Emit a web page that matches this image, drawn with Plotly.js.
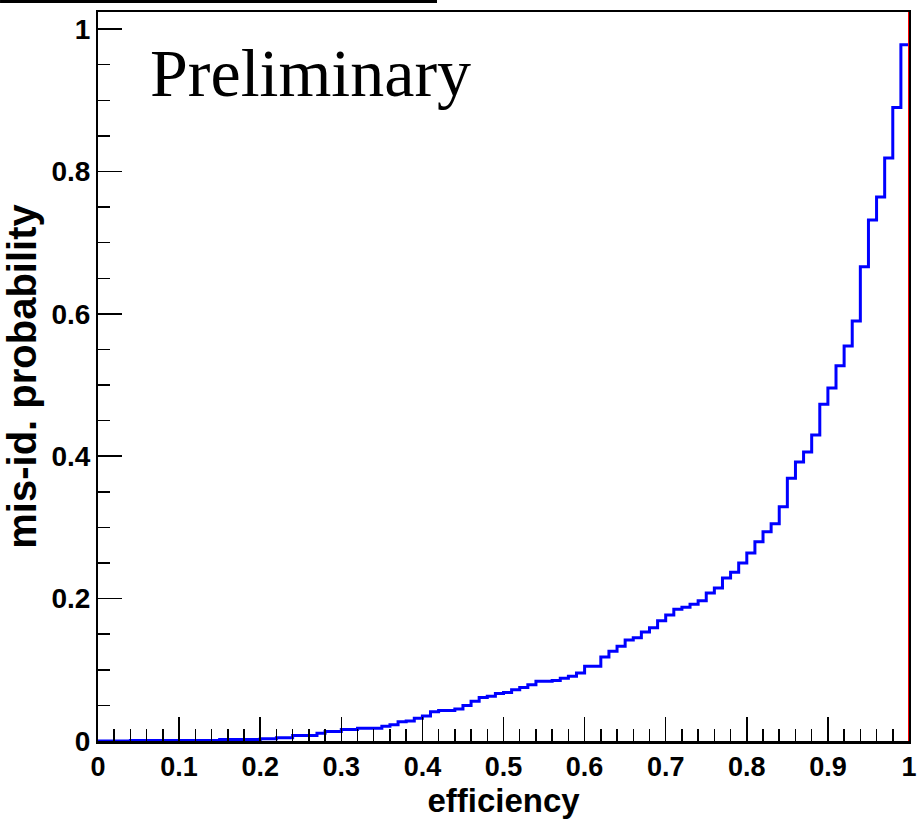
<!DOCTYPE html>
<html>
<head>
<meta charset="utf-8">
<script src="https://cdn.plot.ly/plotly-3.0.1.min.js"></script>
<style>
  html, body { margin: 0; padding: 0; background: #ffffff; }
  #chart { width: 918px; height: 821px; }
</style>
</head>
<body>
<div id="chart"></div>
<script>
// Histogram: 100 bins of width 0.01 over efficiency [0, 1]
const binStart = 0.0;
const binWidth = 0.01;
const misIdProbability = [
  0, 0, 0, 0, 0.0008, 0.0008, 0.0008, 0.0008, 0.0008, 0.0008,
  0.0008, 0.0008, 0.0008, 0.0008, 0.0008, 0.002, 0.002, 0.002, 0.002, 0.002,
  0.003, 0.003, 0.0045, 0.0045, 0.0076, 0.0076, 0.0076, 0.011, 0.0134, 0.0134,
  0.016, 0.016, 0.018, 0.018, 0.018, 0.0207, 0.023, 0.027, 0.028, 0.032,
  0.035, 0.041, 0.043, 0.043, 0.045, 0.050, 0.056, 0.061, 0.063, 0.0666,
  0.068, 0.072, 0.075, 0.079, 0.084, 0.084, 0.085, 0.088, 0.091, 0.0955,
  0.105, 0.105, 0.118, 0.126, 0.133, 0.142, 0.145, 0.153, 0.159, 0.169,
  0.177, 0.185, 0.188, 0.192, 0.197, 0.208, 0.215, 0.229, 0.237, 0.250,
  0.264, 0.280, 0.294, 0.305, 0.329, 0.369, 0.392, 0.406, 0.430, 0.473,
  0.496, 0.527, 0.555, 0.590, 0.666, 0.732, 0.764, 0.819, 0.890, 0.978
];

const xTickVals = [0, 0.1, 0.2, 0.3, 0.4, 0.5, 0.6, 0.7, 0.8, 0.9, 1];
const xTickText = ["0", "0.1", "0.2", "0.3", "0.4", "0.5", "0.6", "0.7", "0.8", "0.9", "1"];
const yTickVals = [0, 0.2, 0.4, 0.6, 0.8, 1];
const yTickText = ["0", "0.2", "0.4", "0.6", "0.8", "1"];

const xTitle = "efficiency";
const yTitle = "mis-id. probability";
const watermark = "Preliminary";
const cutPosition = 1.0; // red vertical marker

// build step histogram points (bin left edges, plus closing edge)
const stepX = [];
const stepY = [];
for (let i = 0; i < misIdProbability.length; i++) {
  stepX.push(+(binStart + i * binWidth).toFixed(4));
  stepY.push(misIdProbability[i]);
}
stepX.push(+(binStart + misIdProbability.length * binWidth).toFixed(4));
stepY.push(misIdProbability[misIdProbability.length - 1]);

const boldFont = "Liberation Sans, Arial, Helvetica, sans-serif";

const traces = [{
  type: "scatter",
  mode: "lines",
  x: stepX,
  y: stepY,
  line: { shape: "hv", color: "#0000ff", width: 3 },
  hoverinfo: "x+y",
  showlegend: false
}];

const layout = {
  width: 918,
  height: 821,
  margin: { l: 98, r: 9, t: 12, b: 80, pad: 0 },
  paper_bgcolor: "#ffffff",
  plot_bgcolor: "#ffffff",
  showlegend: false,
  xaxis: {
    range: [0, 1],
    tickmode: "array",
    tickvals: xTickVals,
    ticktext: xTickText,
    ticks: "inside",
    ticklen: 24,
    tickwidth: 1.5,
    tickcolor: "#000000",
    minor: { dtick: 0.02, ticks: "inside", ticklen: 12, tickwidth: 1.5, tickcolor: "#000000", showgrid: false },
    showgrid: false,
    zeroline: false,
    showline: true,
    linecolor: "#000000",
    linewidth: 2.5,
    mirror: true,
    tickfont: { family: boldFont, size: 27, color: "#000000", weight: "bold" },
    title: { text: xTitle, font: { family: boldFont, size: 33, color: "#000000", weight: "bold" }, standoff: 4 },
    automargin: false
  },
  yaxis: {
    range: [0, 1.024],
    tickmode: "array",
    tickvals: yTickVals,
    ticktext: yTickText,
    ticks: "inside",
    ticklen: 24,
    tickwidth: 1.5,
    tickcolor: "#000000",
    minor: { dtick: 0.05, ticks: "inside", ticklen: 12, tickwidth: 1.5, tickcolor: "#000000", showgrid: false },
    showgrid: false,
    zeroline: false,
    showline: true,
    linecolor: "#000000",
    linewidth: 2,
    mirror: true,
    tickfont: { family: boldFont, size: 28, color: "#000000", weight: "bold" },
    title: { text: yTitle, font: { family: boldFont, size: 40, color: "#000000", weight: "bold" }, standoff: 2 },
    automargin: false
  },
  shapes: [
    {
      type: "line", xref: "x", yref: "paper",
      x0: cutPosition, x1: cutPosition, y0: 0, y1: 1,
      line: { color: "#ff0000", width: 2 }, layer: "above"
    },
    {
      type: "line", xref: "paper", yref: "paper",
      x0: -0.1208, x1: 0.418, y0: 1.0144, y1: 1.0144,
      line: { color: "#000000", width: 3 }
    }
  ],
  annotations: [{
    text: watermark,
    xref: "x", yref: "y",
    x: 0.062, y: 0.938,
    xanchor: "left", yanchor: "middle",
    showarrow: false,
    font: { family: "Liberation Serif, Times New Roman, serif", size: 68, color: "#000000" }
  }]
};

Plotly.newPlot("chart", traces, layout, { staticPlot: true, displayModeBar: false });
</script>
</body>
</html>
